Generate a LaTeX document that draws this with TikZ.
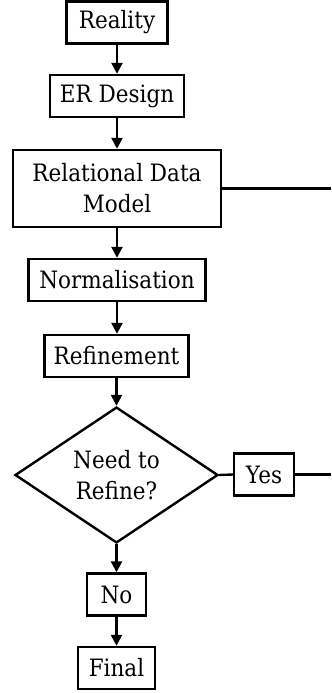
\documentclass[tikz,border=0pt]{standalone}
\usepackage{fontspec}
\setmainfont[FakeStretch=0.9]{DejaVu Serif}
\usepackage{tikz}
\usetikzlibrary{arrows.meta,positioning,shapes.geometric}

\begin{document}
\begin{tikzpicture}[x=1bp,y=-1bp,>={Triangle[length=11bp,width=11bp]},
  line width=2.4bp,
  stepbox/.style={draw,inner xsep=0pt,inner ysep=0pt,minimum height=42bp,
    font=\fontsize{24}{31}\selectfont,align=center},
  decision/.style={draw,diamond,inner sep=0pt,minimum width=203bp,
    minimum height=130bp,font=\fontsize{24}{31}\selectfont,align=center}]
  \useasboundingbox (0,0) rectangle (331,693);

  \node[stepbox,minimum width=101bp] (reality) at (117,22.5) {Reality};
  \node[stepbox,minimum width=134bp] (er) at (117,96) {ER Design};
  \node[stepbox,minimum width=208bp,minimum height=77bp] (rdm) at (117,188.5)
      {Relational Data\\Model};
  \node[stepbox,minimum width=177bp] (norm) at (117,280) {Normalisation};
  \node[stepbox,minimum width=144bp] (refine) at (116.5,356) {Refinement};
  \node[decision] (need) at (116.5,475) {Need to\\Refine?};
  \node[stepbox,minimum width=60bp] (yes) at (264,474.5) {Yes};
  \node[stepbox,minimum width=59bp] (no) at (116.5,594.5) {No};
  \node[stepbox,minimum width=77bp] (final) at (116.5,668) {Final};

  % both loop-back lines run off the right edge
  \coordinate (rdmout) at (331,188.5);
  \coordinate (yesout) at (331,474.5);

  \draw[->] (reality) -- (er);
  \draw[->] (er) -- (rdm);
  \draw[->] (rdm) -- (norm);
  \draw[->] (norm.south) -- (refine.north -| norm.south);
  \draw[->] (refine) -- (need);
  \draw[->] (need) -- (no);
  \draw[->] (no) -- (final);
  \draw (need.east) -- (yes.west);
  \draw (yes.east) -- (yesout);
  \draw (rdm.east) -- (rdmout);
\end{tikzpicture}
\end{document}
